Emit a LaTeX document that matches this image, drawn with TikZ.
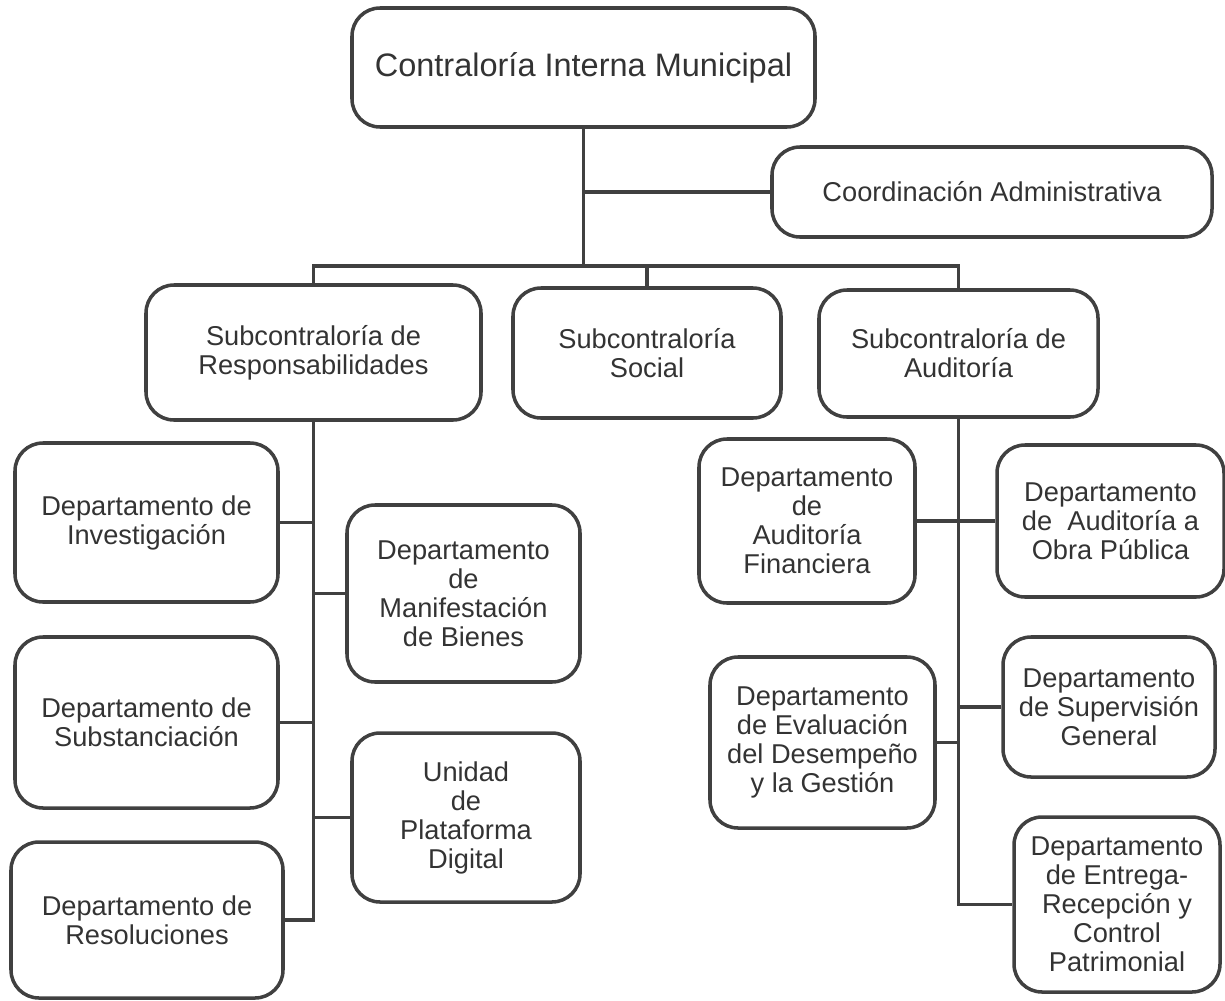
\documentclass[tikz,border=0pt]{standalone}
\usepackage{fontspec}
\setmainfont{Liberation Sans}
\tikzset{every path/.style={line width=2pt}}
\tikzset{
  orgbox/.style={draw=black!75, rounded corners=0.56cm, align=center, inner sep=0pt,
    text=black!80, font=\fontsize{15.5}{16.5}\selectfont},
  wh/.style 2 args={minimum width={#1*0.02cm}, minimum height={#2*0.02cm}},
  link/.style={draw=black!75}
}

\begin{document}
\begin{tikzpicture}[x=0.02cm, y=-0.02cm]
    \useasboundingbox (0,0) rectangle (1225,1001);

    % top levels
    \node[orgbox, wh={463}{119}, font=\fontsize{18.5}{20}\selectfont] (cim) at (583.5,67.5) {Contraloría Interna Municipal};
    \node[orgbox, wh={440}{90}] (coa) at (992,192) {Coordinación Administrativa};
    \node[orgbox, wh={335}{135}] (sres) at (313.5,352.5) {Subcontraloría de\\Responsabilidades};
    \node[orgbox, wh={268}{130}] (ssoc) at (647,353) {Subcontraloría\\Social};
    \node[orgbox, wh={279}{127}] (saud) at (958.5,353.5) {Subcontraloría de\\Auditoría};
    \coordinate (bus) at (583.5,266);

    % responsabilidades
    \node[orgbox, wh={263}{159}] (dinv) at (146.5,522.5) {Departamento de\\Investigación};
    \node[orgbox, wh={233}{177}] (dman) at (463.5,593.5) {Departamento\\de\\Manifestación\\de Bienes};
    \node[orgbox, wh={263}{171}] (dsub) at (146.5,722.5) {Departamento de\\Substanciación};
    \node[orgbox, wh={228}{169}] (dpla) at (466,817.5) {Unidad\\de\\Plataforma\\Digital};
    \node[orgbox, wh={272}{156}] (dres) at (147,920) {Departamento de\\Resoluciones};

    % auditoria
    \node[orgbox, wh={216}{164}] (dfin) at (807,521) {Departamento\\de\\Auditoría\\Financiera};
    \node[orgbox, wh={227}{152}] (dobr) at (1110.5,521) {Departamento\\de\ \ Auditoría a\\Obra Pública};
    \node[orgbox, wh={225}{171}] (deva) at (822.5,742.5) {Departamento\\de Evaluación\\del Desempeño\\y la Gestión};
    \node[orgbox, wh={212}{140}] (dsup) at (1109,707) {Departamento\\de Supervisión\\General};
    \node[orgbox, wh={206}{175}] (dent) at (1117,904.5) {Departamento\\de Entrega-\\Recepción y\\Control\\Patrimonial};

    % lines
    \draw[link] (cim.south) -- (bus);
    \draw[link] (cim.south |- coa.west) -- (coa.west);
    \draw[link] (sres.north) -- (sres.north |- bus) -- (saud.north |- bus) -- (saud.north);
    \draw[link] (ssoc.north) -- (ssoc.north |- bus);

    \draw[link] (sres.south) -- (sres.south |- dres.east) -- (dres.east);
    \foreach \d in {dinv,dsub}
      \draw[link] (\d.east) -- (\d.east -| sres.south);
    \foreach \d in {dman,dpla}
      \draw[link] (\d.west) -- (\d.west -| sres.south);

    \draw[link] (saud.south) -- (saud.south |- dent.west) -- (dent.west);
    \foreach \d in {dfin,deva}
      \draw[link] (\d.east) -- (\d.east -| saud.south);
    \foreach \d in {dobr,dsup}
      \draw[link] (\d.west) -- (\d.west -| saud.south);
\end{tikzpicture}
\end{document}
